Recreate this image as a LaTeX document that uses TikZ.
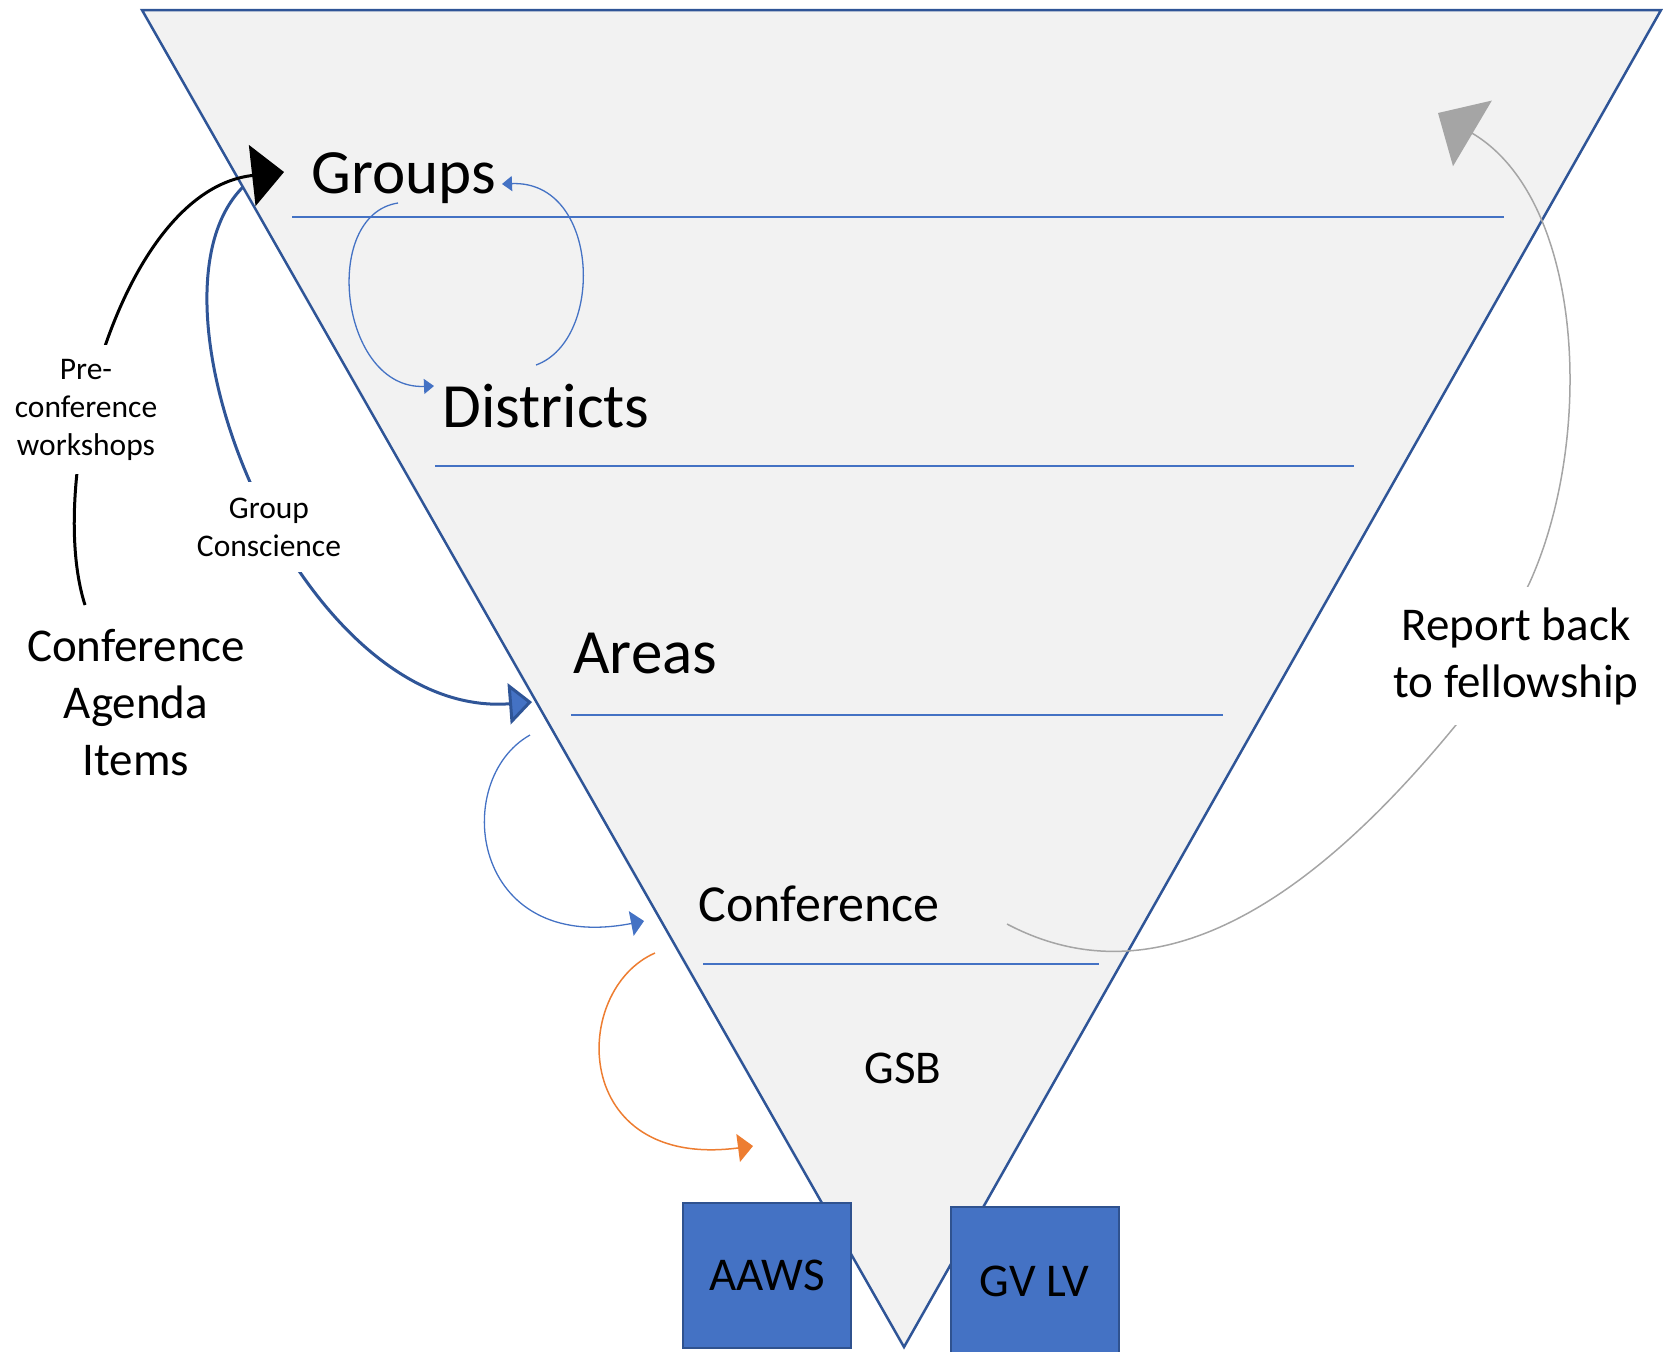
\documentclass[tikz,border=0pt]{standalone}
\usepackage{fontspec}
\setmainfont{Carlito}
\usetikzlibrary{arrows.meta}
\definecolor{tri}{HTML}{F2F2F2}
\definecolor{navy}{HTML}{2F5597}
\definecolor{accent}{HTML}{4472C4}
\definecolor{boxline}{HTML}{2F528F}
\definecolor{orng}{HTML}{ED7D31}
\definecolor{grey}{HTML}{A5A5A5}
\begin{document}
\begin{tikzpicture}[x=0.5pt,y=-0.5pt,
    level/.style={font=\fontsize{31.5}{38}\selectfont,inner sep=0pt,anchor=base west},
    mid/.style={font=\fontsize{23.5}{28.5}\selectfont,inner sep=0pt,align=center,anchor=base},
    lbl/.style={font=\fontsize{15.75}{19}\selectfont,fill=white,inner xsep=2pt,inner ysep=7pt,align=center,anchor=base},
    box/.style={draw=boxline,fill=accent,line width=1pt,minimum width=84pt,minimum height=72.5pt,font=\fontsize{23.5}{28.5}\selectfont},
    thin/.style={accent,line width=0.65pt}]
  \useasboundingbox (0,0) rectangle (1663,1351);
  \filldraw[fill=tri,draw=navy,line width=1.25pt] (142,10) -- (1661,10) -- (904,1347) -- cycle;
  \foreach \y/\a/\b in {217/292/1504,466/435/1354,715/571/1223,964/703/1099}
    \draw[accent,line width=0.6pt] (\a,\y) -- (\b,\y);

  \node[level] (groups) at (311,193) {Groups};
  \node[level] (districts) at (442,427) {Districts};
  \node[level] (areas) at (573,673) {Areas};
  \node[level,font=\fontsize{26}{31}\selectfont] (conference) at (698,921) {Conference};
  \node[mid] (gsb) at (903,1083) {GSB};
  \node[box] (aaws) at (767,1275.5) {AAWS};
  \node[box,minimum height=74pt] (gvlv) at (1034.5,1281) {GV LV};
  \node[mid] (agenda) at (136,775) {Conference\\Agenda\\Items};

  \coordinate (gd1) at (398,203);   \coordinate (gd2) at (434,386);
  \coordinate (dg1) at (536,365);   \coordinate (dg2) at (502,184);
  \coordinate (ac1) at (530,735);   \coordinate (ac2) at (644,921);
  \coordinate (cg1) at (655,953);   \coordinate (cg2) at (753,1146);
  \coordinate (ws1) at (85,605);    \coordinate (ws2) at (284,172);
  \coordinate (gc1) at (243,187);   \coordinate (gc2) at (532,702);
  \coordinate (rb1) at (1007,924);  \coordinate (rb2) at (1438,113);

  \draw[thin,-{Triangle[length=5pt,width=7.5pt]}] (gd1) .. controls (320,215) and (340,390) .. (gd2);
  \draw[thin,-{Triangle[length=5pt,width=7.5pt]}] (dg1) .. controls (605,340) and (600,180) .. (dg2);
  \draw[thin,-{Triangle[length=6.5pt,width=12.5pt]}] (ac1) .. controls (450,780) and (470,955) .. (ac2);
  \draw[orng,line width=0.75pt,-{Triangle[length=7.5pt,width=14pt]}] (cg1) .. controls (570,990) and (570,1170) .. (cg2);
  \draw[grey,line width=0.75pt,-{Triangle[length=20pt,width=38pt]}] (rb1) .. controls (1170,1010) and (1330,880) .. (1460,720)
    -- (1529,584) .. controls (1595,440) and (1585,200) .. (rb2);
  \draw[navy,line width=1.5pt,-{Triangle[length=11.5pt,width=20.5pt,fill=accent]}] (gc1) .. controls (130,300) and (300,720) .. (gc2);
  \draw[black,line width=1.5pt,-{Triangle[length=16pt,width=30.5pt]}] (ws1) .. controls (45,480) and (120,190) .. (ws2);

  \node[lbl] (workshops) at (86,455) {Pre-\\conference\\workshops};
  \node[lbl,inner ysep=8pt] (conscience) at (269,556) {Group\\Conscience};
  \node[lbl,font=\fontsize{23.5}{28.5}\selectfont,inner ysep=10pt] (report) at (1516,697) {Report back\\to fellowship};
\end{tikzpicture}
\end{document}
